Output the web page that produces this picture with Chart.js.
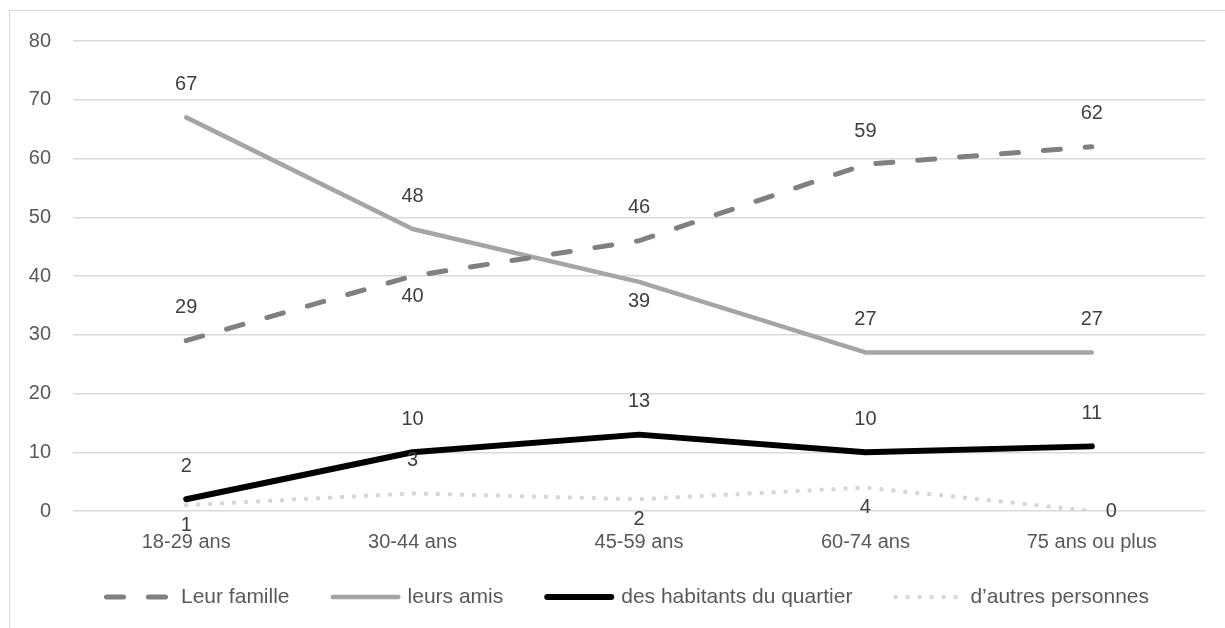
<!DOCTYPE html>
<html>
<head>
<meta charset="utf-8">
<script src="https://cdn.jsdelivr.net/npm/chart.js@4"></script>
<style>
  html, body { margin: 0; padding: 0; background: #fff; overflow: hidden; }
  #wrap { position: relative; width: 1225px; height: 628px; }
  #frame { position: absolute; left: 9px; top: 10px; width: 1300px; height: 700px;
           border-left: 1px solid #d9d9d9; border-top: 1px solid #d9d9d9; pointer-events: none; }
</style>
</head>
<body>
<div id="wrap">
  <canvas id="chart" width="1225" height="628"></canvas>
  <div id="frame"></div>
</div>
<script>
// categories + series
const ageGroups = ['18-29 ans', '30-44 ans', '45-59 ans', '60-74 ans', '75 ans ou plus'];
const famille = [29, 40, 46, 59, 62];
const amis = [67, 48, 39, 27, 27];
const habitants = [2, 10, 13, 10, 11];
const autres = [1, 3, 2, 4, 0];
const yTicks = [0, 10, 20, 30, 40, 50, 60, 70, 80];

const FONT = 'Liberation Sans, Arial, sans-serif';
const FONT_SIZE = 20;

// draws the value next to each point (t = above, b = below, r = right)
const valueLabels = {
    id: 'valueLabels',
    afterDatasetsDraw(chart) {
        const ctx = chart.ctx;
        ctx.save();
        ctx.font = FONT_SIZE + 'px ' + FONT;
        ctx.fillStyle = '#404040';
        ctx.textBaseline = 'middle';
        chart.data.datasets.forEach((ds, i) => {
            const meta = chart.getDatasetMeta(i);
            meta.data.forEach((pt, j) => {
                const pos = ds.labelPos[j];
                let x = pt.x, y = pt.y;
                ctx.textAlign = 'center';
                if (pos === 't') y -= 33;
                else if (pos === 'b') y += 20;
                else { x += 14; ctx.textAlign = 'left'; }
                ctx.fillText(String(ds.data[j]), x, y);
            });
        });
        ctx.restore();
    }
};

// legend drawn by hand so the dashed / dotted samples keep their pattern
const lineLegend = {
    id: 'lineLegend',
    afterDraw(chart) {
        const ctx = chart.ctx;
        const sampleW = 72, textGap = 6, itemGap = 40, y = 597;
        ctx.save();
        ctx.font = '21px ' + FONT;
        const items = chart.data.datasets.map(ds => ({ ds, w: sampleW + textGap + ctx.measureText(ds.label).width }));
        const total = items.reduce((s, it) => s + it.w, 0) + itemGap * (items.length - 1);
        let x = 626 - total / 2;
        items.forEach(({ ds, w }) => {
            const inset = ds.borderWidth / 2 + 1;
            ctx.beginPath();
            ctx.strokeStyle = ds.borderColor;
            ctx.lineWidth = ds.borderWidth;
            ctx.lineCap = 'round';
            ctx.setLineDash(ds.borderDash || []);
            ctx.moveTo(x + inset, y);
            ctx.lineTo(x + sampleW - inset, y);
            ctx.stroke();
            ctx.setLineDash([]);
            ctx.fillStyle = '#595959';
            ctx.textAlign = 'left';
            ctx.textBaseline = 'middle';
            ctx.fillText(ds.label, x + sampleW + textGap, y);
            x += w + itemGap;
        });
        ctx.restore();
    }
};

new Chart(document.getElementById('chart'), {
    type: 'line',
    data: {
        labels: ageGroups,
        datasets: [
            {
                label: 'Leur famille',
                data: famille,
                borderColor: '#808080',
                backgroundColor: '#808080',
                borderWidth: 5,
                borderDash: [17, 25],
                borderCapStyle: 'round',
                labelPos: ['t', 'b', 't', 't', 't']
            },
            {
                label: 'leurs amis',
                data: amis,
                borderColor: '#a5a5a5',
                backgroundColor: '#a5a5a5',
                borderWidth: 4.5,
                borderCapStyle: 'round',
                labelPos: ['t', 't', 'b', 't', 't']
            },
            {
                label: 'des habitants du quartier',
                data: habitants,
                borderColor: '#000000',
                backgroundColor: '#000000',
                borderWidth: 6,
                borderCapStyle: 'round',
                labelPos: ['t', 't', 't', 't', 't']
            },
            {
                label: 'd\u2019autres personnes',
                data: autres,
                borderColor: '#d6d6d6',
                backgroundColor: '#d6d6d6',
                borderWidth: 4.5,
                borderDash: [0, 12],
                borderCapStyle: 'round',
                labelPos: ['b', 't', 'b', 'b', 'r']
            }
        ]
    },
    options: {
        responsive: false,
        animation: false,
        elements: {
            point: { radius: 0, hoverRadius: 0 },
            line: { tension: 0, borderJoinStyle: 'round' }
        },
        layout: { padding: { top: 41, right: 20, left: 0, bottom: 0 } },
        scales: {
            x: {
                offset: true,
                grid: { display: false },
                border: { display: false },
                afterFit: (axis) => { axis.height = 117; },
                ticks: { color: '#595959', font: { family: FONT, size: FONT_SIZE }, padding: 11 }
            },
            y: {
                min: 0,
                max: 80,
                afterBuildTicks: (axis) => { axis.ticks = yTicks.map(v => ({ value: v })); },
                afterFit: (axis) => { axis.width = 73; },
                grid: { color: '#d9d9d9', lineWidth: 1.5, drawTicks: false },
                border: { display: false },
                ticks: { color: '#595959', font: { family: FONT, size: FONT_SIZE }, padding: 22 }
            }
        },
        plugins: {
            tooltip: { enabled: false },
            legend: { display: false }
        }
    },
    plugins: [valueLabels, lineLegend]
});
</script>
</body>
</html>
